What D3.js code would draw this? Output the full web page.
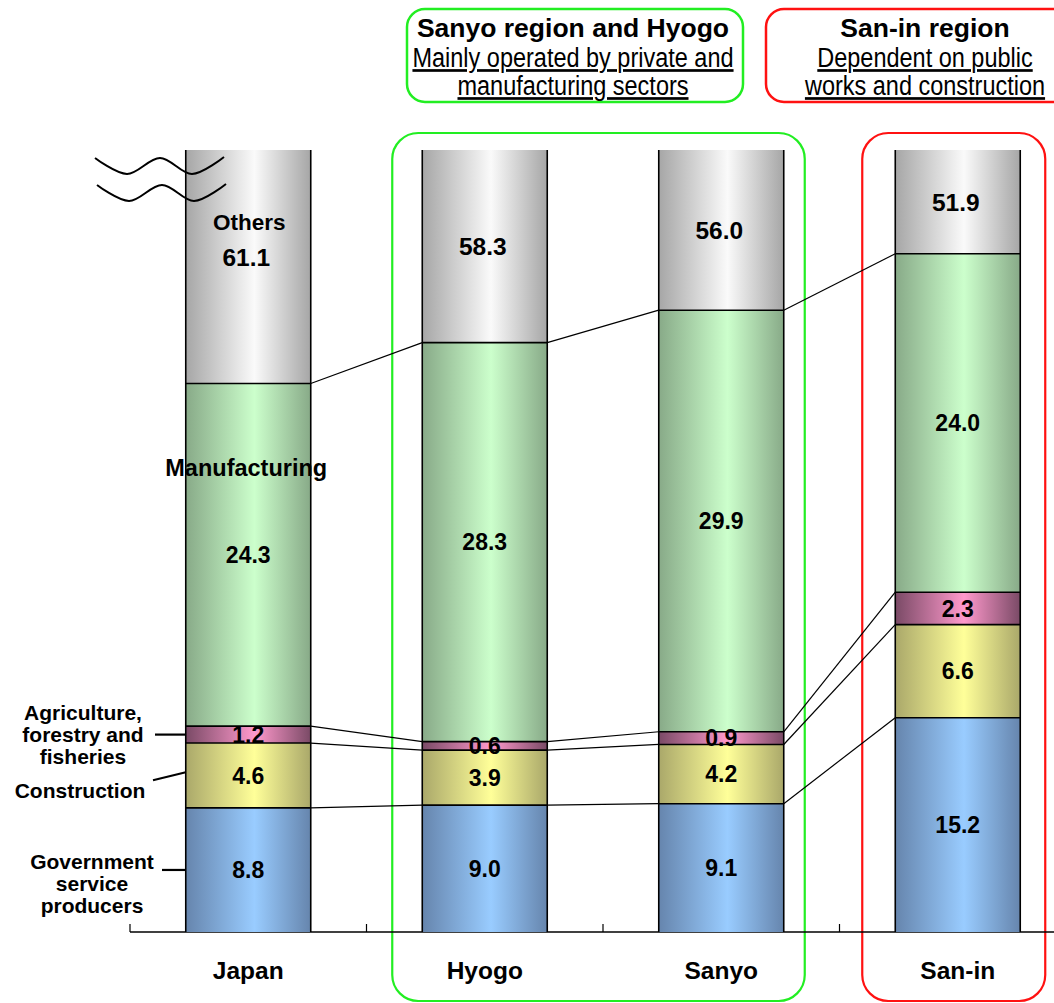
<!DOCTYPE html>
<html>
<head>
<meta charset="utf-8">
<title>Industry composition</title>
<style>
body { margin: 0; background: #fff; }
text {
    font-family: "Liberation Sans", Arial, sans-serif;
    font-weight: bold;
    fill: #000;
}
.narrow {
    font-weight: normal;
    text-decoration: underline;
}
.link line { stroke: #000; stroke-width: 1.2; }
.edge { stroke: #000; stroke-width: 1.6; }
</style>
</head>
<body>
<div id="chart"></div>
<script src="https://cdn.jsdelivr.net/npm/d3@7"></script>
<script>
// values (%)
var categories = ["Japan", "Hyogo", "Sanyo", "San-in"];
var sectorKeys = ["gov", "construction", "agriculture", "manufacturing", "others"];
var govValues = [8.8, 9.0, 9.1, 15.2];
var constructionValues = [4.6, 3.9, 4.2, 6.6];
var agricultureValues = [1.2, 0.6, 0.9, 2.3];
var manufacturingValues = [24.3, 28.3, 29.9, 24.0];
var othersValues = [61.1, 58.3, 56.0, 51.9];
var visibleMax = 55.46; // axis is broken above this

(function() {
    var width = 1054, height = 1003;
    var baseY = 932, topY = 150;

    var colors = {
        gov:           { dark: "#6685ad", light: "#99ccff" },
        construction:  { dark: "#aaa86a", light: "#ffff99" },
        agriculture:   { dark: "#7a4a66", light: "#ff99cc" },
        manufacturing: { dark: "#88aa88", light: "#ccffcc" },
        others:        { dark: "#a6a6a6", light: "#fafafa" }
    };

    var rows = categories.map(function(c, i) {
        return { cat: c, gov: govValues[i], construction: constructionValues[i],
                 agriculture: agricultureValues[i], manufacturing: manufacturingValues[i],
                 others: othersValues[i] };
    });
    var series = d3.stack().keys(sectorKeys)(rows);

    var x = d3.scaleBand()
        .domain(categories)
        .range([130, 1076])
        .paddingInner(0.4715)
        .paddingOuter(0.4715 / 2);
    var y = d3.scaleLinear()
        .domain([0, visibleMax])
        .range([baseY, topY])
        .clamp(true);
    var bw = x.bandwidth();

    var svg = d3.select("#chart").append("svg")
        .attr("width", width)
        .attr("height", height);

    // cylinder-like gradients
    var defs = svg.append("defs");
    sectorKeys.forEach(function(k) {
        var g = defs.append("linearGradient").attr("id", "grad-" + k)
            .attr("x1", "0%").attr("x2", "100%").attr("y1", "0%").attr("y2", "0%");
        g.append("stop").attr("offset", "0%").attr("stop-color", colors[k].dark);
        g.append("stop").attr("offset", "55%").attr("stop-color", colors[k].light);
        g.append("stop").attr("offset", "100%").attr("stop-color", colors[k].dark);
    });

    // group boxes
    var gBox = svg.append("g").attr("class", "boxes");
    gBox.append("rect")
        .attr("x", x("Hyogo") - 30).attr("y", 133)
        .attr("width", x("Sanyo") + bw + 21 - (x("Hyogo") - 30)).attr("height", 868)
        .attr("rx", 26).attr("fill", "none").attr("stroke", "#22ee22").attr("stroke-width", 2.2);
    gBox.append("rect")
        .attr("x", x("San-in") - 33).attr("y", 133)
        .attr("width", bw + 58).attr("height", 868)
        .attr("rx", 26).attr("fill", "none").attr("stroke", "#ff1111").attr("stroke-width", 2.2);

    // header boxes
    var headers = [
        { title: "Sanyo region and Hyogo", sub: ["Mainly operated by private and", "manufacturing sectors"],
          x: 407, w: 336, cx: 573, stroke: "#22ee22" },
        { title: "San-in region", sub: ["Dependent on public", "works and construction"],
          x: 766, w: 310, cx: 925, stroke: "#ff1111" }
    ];
    headers.forEach(function(h) {
        gBox.append("rect")
            .attr("x", h.x).attr("y", 9).attr("width", h.w).attr("height", 93)
            .attr("rx", 18).attr("fill", "#fff").attr("stroke", h.stroke).attr("stroke-width", 2.5);
        gBox.append("text")
            .attr("x", h.cx).attr("y", 37)
            .attr("text-anchor", "middle")
            .style("font-size", "26.5px")
            .text(h.title);
        h.sub.forEach(function(s, i) {
            // condensed look: squeeze a regular face horizontally
            gBox.append("text")
                .attr("class", "narrow")
                .attr("transform", "translate(" + h.cx + "," + (67 + i * 28) + ") scale(0.87,1)")
                .attr("text-anchor", "middle")
                .style("font-size", "27px")
                .text(s);
        });
    });

    // axis baseline with upward ticks at band edges
    var gAxis = svg.append("g").attr("class", "axis");
    gAxis.append("line")
        .attr("x1", 130).attr("x2", width).attr("y1", baseY).attr("y2", baseY)
        .attr("stroke", "#000").attr("stroke-width", 1.5);
    gAxis.selectAll("line.tick")
        .data(categories)
        .enter().append("line")
        .attr("class", "tick")
        .attr("x1", function(d) { return x(d) - x.step() * x.paddingInner() / 2; })
        .attr("x2", function(d) { return x(d) - x.step() * x.paddingInner() / 2; })
        .attr("y1", baseY).attr("y2", baseY - 8)
        .attr("stroke", "#000").attr("stroke-width", 1.2);
    gAxis.selectAll("text")
        .data(categories)
        .enter().append("text")
        .attr("x", function(d) { return x(d) + bw / 2; })
        .attr("y", 979)
        .attr("text-anchor", "middle")
        .style("font-size", "24.5px")
        .text(function(d) { return d; });

    // connecting lines between bars at each segment top (except the broken one)
    var gLink = svg.append("g").attr("class", "link");
    series.slice(0, 4).forEach(function(s) {
        for (var i = 0; i < categories.length - 1; i++) {
            gLink.append("line")
                .attr("x1", x(categories[i]) + bw)
                .attr("y1", y(s[i][1]))
                .attr("x2", x(categories[i + 1]))
                .attr("y2", y(s[i + 1][1]));
        }
    });

    // stacked bars
    var gBars = svg.append("g").attr("class", "bars");
    gBars.selectAll("g")
        .data(series)
        .enter().append("g")
        .attr("fill", function(d) { return "url(#grad-" + d.key + ")"; })
        .selectAll("rect")
        .data(function(d) { return d; })
        .enter().append("rect")
        .attr("x", function(d) { return x(d.data.cat); })
        .attr("y", function(d) { return y(d[1]); })
        .attr("width", bw)
        .attr("height", function(d) { return y(d[0]) - y(d[1]); });

    // bar outlines: sides and segment boundaries
    categories.forEach(function(c) {
        gBars.append("line").attr("class", "edge")
            .attr("x1", x(c)).attr("x2", x(c)).attr("y1", topY).attr("y2", baseY);
        gBars.append("line").attr("class", "edge")
            .attr("x1", x(c) + bw).attr("x2", x(c) + bw).attr("y1", topY).attr("y2", baseY);
    });
    series.slice(0, 4).forEach(function(s) {
        s.forEach(function(d) {
            gBars.append("line").attr("class", "edge")
                .attr("x1", x(d.data.cat)).attr("x2", x(d.data.cat) + bw)
                .attr("y1", y(d[1])).attr("y2", y(d[1]));
        });
    });

    // value labels
    var gLab = svg.append("g").attr("class", "labels");
    series.forEach(function(s) {
        s.forEach(function(d, i) {
            var v = d[1] - d[0];
            var cy = (y(d[0]) + y(d[1])) / 2;
            var isTop = s.key === "others";
            var ty = cy;
            if (isTop && i === 0) ty = cy - 10;
            gLab.append("text")
                .attr("x", x(d.data.cat) + bw / 2 + (isTop ? -2 : 0))
                .attr("y", ty)
                .attr("dy", "0.36em")
                .attr("text-anchor", "middle")
                .style("font-size", isTop ? "24.5px" : "23px")
                .text(v.toFixed(1));
        });
    });

    // sector names on / beside the Japan bar
    var j = 0, jx = x("Japan");
    var othersSeg = series[4][j], manuSeg = series[3][j];
    gLab.append("text")
        .attr("x", jx + bw / 2 + 1)
        .attr("y", (y(othersSeg[0]) + y(othersSeg[1])) / 2 - 45)
        .attr("dy", "0.36em").attr("text-anchor", "middle")
        .style("font-size", "22.5px").text("Others");
    gLab.append("text")
        .attr("x", jx + bw / 2 - 2)
        .attr("y", y(manuSeg[0] + (manuSeg[1] - manuSeg[0]) * 0.755))
        .attr("dy", "0.36em").attr("text-anchor", "middle")
        .style("font-size", "23.5px").text("Manufacturing");

    function sideLabel(lines, cx, cyFirst, pointer) {
        lines.forEach(function(l, i) {
            gLab.append("text")
                .attr("x", cx).attr("y", cyFirst + i * 22)
                .attr("dy", "0.36em").attr("text-anchor", "middle")
                .style("font-size", "21px").text(l);
        });
        gLab.append("line")
            .attr("x1", pointer[0]).attr("y1", pointer[1])
            .attr("x2", jx).attr("y2", pointer[2])
            .attr("stroke", "#000").attr("stroke-width", 2.2);
    }
    var agri = series[2][j], cons = series[1][j], gov = series[0][j];
    var agriMid = (y(agri[0]) + y(agri[1])) / 2;
    var consPt = y(cons[0] + (cons[1] - cons[0]) * 0.55);
    var govMid = (y(gov[0]) + y(gov[1])) / 2;
    sideLabel(["Agriculture,", "forestry and", "fisheries"], 83, agriMid - 22, [155, agriMid, agriMid]);
    sideLabel(["Construction"], 80, consPt + 18, [153, consPt + 8, consPt]);
    sideLabel(["Government", "service", "producers"], 92, govMid - 9, [162, govMid, govMid]);

    // axis break marks
    var wave = d3.line().curve(d3.curveCatmullRom);
    [0, 27].forEach(function(dy, k) {
        var pts = [[95, 158], [127, 174], [160, 158], [192, 174], [224, 157]].map(function(p) {
            return [p[0] + (k ? 2 : 0), p[1] + dy];
        });
        svg.append("path")
            .attr("d", wave(pts))
            .attr("fill", "none").attr("stroke", "#000").attr("stroke-width", 2);
    });
})();
</script>
</body>
</html>
